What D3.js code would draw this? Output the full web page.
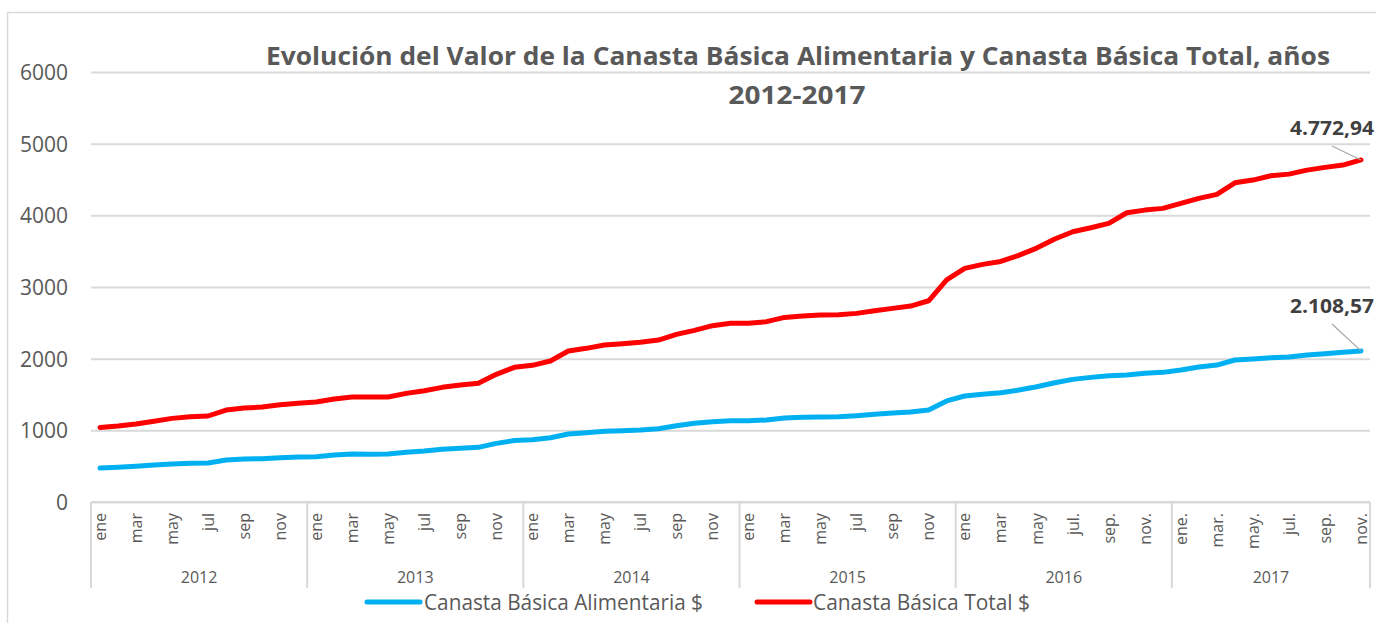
<!DOCTYPE html>
<html>
<head>
<meta charset="utf-8">
<script src="https://cdn.jsdelivr.net/npm/d3@7"></script>
<style>
  html, body { margin: 0; padding: 0; background: #ffffff; }
  svg { display: block; }
  text { font-family: "Open Sans", "Noto Sans", sans-serif; }
</style>
</head>
<body>
<svg id="chart" width="1376" height="623"></svg>
<script>
// ---------- DATA ----------
const years = ["2012", "2013", "2014", "2015", "2016", "2017"];
const monthsPerYear = [12, 12, 12, 12, 12, 11];
const monthLabels = [
  "ene","feb","mar","abr","may","jun","jul","ago","sep","oct","nov","dic",
  "ene","feb","mar","abr","may","jun","jul","ago","sep","oct","nov","dic",
  "ene","feb","mar","abr","may","jun","jul","ago","sep","oct","nov","dic",
  "ene","feb","mar","abr","may","jun","jul","ago","sep","oct","nov","dic",
  "ene","feb","mar","abr","may","jun","jul.","ago.","sep.","oct.","nov.","dic.",
  "ene.","feb.","mar.","abr.","may.","jun.","jul.","ago.","sep.","oct.","nov."
];
const cbaValues = [ // Canasta Básica Alimentaria $
  474, 484, 498, 516, 530, 539, 544, 586, 600, 604, 618, 628,
  632, 656, 670, 665, 670, 693, 711, 735, 749, 763, 818, 858,
  869, 897, 949, 967, 986, 995, 1004, 1023, 1065, 1098, 1120, 1134,
  1134, 1144, 1172, 1181, 1186, 1190, 1204, 1223, 1242, 1256, 1283, 1410,
  1479, 1502, 1525, 1562, 1609, 1664, 1711, 1739, 1762, 1771, 1795, 1809,
  1842, 1884, 1911, 1981, 1995, 2013, 2023, 2051, 2069, 2088, 2108.57
];
const cbtValues = [ // Canasta Básica Total $
  1041, 1060, 1088, 1126, 1167, 1190, 1200, 1283, 1311, 1325, 1357, 1377,
  1395, 1437, 1465, 1465, 1465, 1516, 1553, 1600, 1632, 1656, 1781, 1879,
  1907, 1967, 2107, 2144, 2190, 2209, 2228, 2260, 2339, 2395, 2460, 2495,
  2493, 2516, 2576, 2594, 2608, 2613, 2632, 2669, 2702, 2734, 2808, 3100,
  3260, 3316, 3357, 3441, 3543, 3669, 3771, 3826, 3887, 4036, 4073, 4097,
  4167, 4237, 4292, 4454, 4492, 4552, 4575, 4631, 4669, 4701, 4772.94
];
const yTicks = [0, 1000, 2000, 3000, 4000, 5000, 6000];
const seriesNames = ["Canasta Básica Alimentaria $", "Canasta Básica Total $"];
const endLabels = ["2.108,57", "4.772,94"];
const titleLines = ["Evolución del Valor de la Canasta Básica Alimentaria y Canasta Básica Total, años", "2012-2017"];

// ---------- LAYOUT ----------
const svg = d3.select("#chart");
const plot = { left: 91, right: 1370, top: 72, bottom: 502 };
const colors = ["#00b0f0", "#ff0000"];
const gridColor = "#d9d9d9";
const textColor = "#595959";

// outer frame
svg.append("rect").attr("x", 7.5).attr("y", 12.5).attr("width", 1400).attr("height", 640)
  .attr("fill", "none").attr("stroke", gridColor).attr("stroke-width", 1.5);

const x = d3.scaleBand().domain(d3.range(monthLabels.length)).range([plot.left, plot.right]);
const y = d3.scaleLinear().domain([0, 6000]).range([plot.bottom, plot.top]);
const cx = i => x(i) + x.bandwidth() / 2;

// y axis with gridlines
const yAxis = d3.axisLeft(y).tickValues(yTicks).tickFormat(d3.format("d"))
  .tickSize(-(plot.right - plot.left)).tickPadding(23);
const gy = svg.append("g").attr("transform", `translate(${plot.left},0)`).call(yAxis);
gy.select(".domain").remove();
gy.selectAll(".tick line").attr("stroke", gridColor).attr("stroke-width", 2);
gy.selectAll(".tick text").attr("fill", textColor).style("font-size", "21px")
  .attr("dy", "0.36em");

// x axis: months (every second label)
const xAxis = d3.axisBottom(x).tickValues(d3.range(0, monthLabels.length, 2))
  .tickFormat(i => monthLabels[i]).tickSize(0);
const gx = svg.append("g").attr("transform", `translate(0,${plot.bottom})`).call(xAxis);
gx.select(".domain").remove();
gx.selectAll(".tick text")
  .attr("fill", textColor).style("font-size", "16px")
  .attr("text-anchor", "end")
  .attr("transform", "rotate(-90)")
  .attr("x", -11).attr("y", 0).attr("dy", "0.36em");

// baseline
svg.append("line").attr("x1", plot.left).attr("x2", plot.right)
  .attr("y1", plot.bottom).attr("y2", plot.bottom)
  .attr("stroke", gridColor).attr("stroke-width", 2);

// year separators and labels
let start = 0;
const bounds = [];
years.forEach((yr, k) => {
  const n = monthsPerYear[k];
  bounds.push({ yr, x0: x(start), x1: x(start + n - 1) + x.bandwidth() });
  start += n;
});
const sepXs = [bounds[0].x0].concat(bounds.map(b => b.x1));
svg.selectAll(".sep").data(sepXs).join("line").attr("class", "sep")
  .attr("x1", d => d).attr("x2", d => d).attr("y1", plot.bottom).attr("y2", 588)
  .attr("stroke", gridColor).attr("stroke-width", 2);
svg.selectAll(".year").data(bounds).join("text").attr("class", "year")
  .attr("x", d => (d.x0 + d.x1) / 2).attr("y", 583)
  .attr("text-anchor", "middle").attr("fill", textColor).style("font-size", "16px")
  .text(d => d.yr);

// lines
const line = d3.line().x((d, i) => cx(i)).y(d => y(d));
[cbaValues, cbtValues].forEach((vals, s) => {
  svg.append("path").datum(vals).attr("d", line)
    .attr("fill", "none").attr("stroke", colors[s]).attr("stroke-width", 5)
    .attr("stroke-linejoin", "round").attr("stroke-linecap", "round");
});

// end labels with leader lines
const lastIdx = monthLabels.length - 1;
[cbaValues, cbtValues].forEach((vals, s) => {
  const px = cx(lastIdx), py = y(vals[lastIdx]);
  const ly = s === 0 ? 313 : 135;
  svg.append("line").attr("x1", px - 29).attr("y1", ly + 11).attr("x2", px).attr("y2", py)
    .attr("stroke", "#a6a6a6").attr("stroke-width", 1.2);
  svg.append("text").attr("x", 1374).attr("y", ly)
    .attr("text-anchor", "end").attr("fill", "#404040")
    .style("font-size", "20px").style("font-weight", "bold")
    .attr("textLength", 84).attr("lengthAdjust", "spacingAndGlyphs")
    .text(endLabels[s]);
});

// title
svg.append("text").attr("x", 798).attr("y", 65).attr("text-anchor", "middle")
  .attr("fill", textColor).style("font-size", "25px").style("font-weight", "bold")
  .attr("textLength", 1064).attr("lengthAdjust", "spacingAndGlyphs")
  .text(titleLines[0]);
svg.append("text").attr("x", 797).attr("y", 104).attr("text-anchor", "middle")
  .attr("fill", textColor).style("font-size", "25px").style("font-weight", "bold")
  .attr("textLength", 137).attr("lengthAdjust", "spacingAndGlyphs")
  .text(titleLines[1]);

// legend
const legend = [
  { x1: 367, x2: 420, tx: 424, tw: 279 },
  { x1: 757, x2: 810, tx: 813, tw: 217 }
];
legend.forEach((l, s) => {
  svg.append("line").attr("x1", l.x1).attr("x2", l.x2).attr("y1", 602).attr("y2", 602)
    .attr("stroke", colors[s]).attr("stroke-width", 5).attr("stroke-linecap", "round");
  svg.append("text").attr("x", l.tx).attr("y", 610).attr("fill", textColor)
    .style("font-size", "21px")
    .attr("textLength", l.tw).attr("lengthAdjust", "spacingAndGlyphs")
    .text(seriesNames[s]);
});
</script>
</body>
</html>
